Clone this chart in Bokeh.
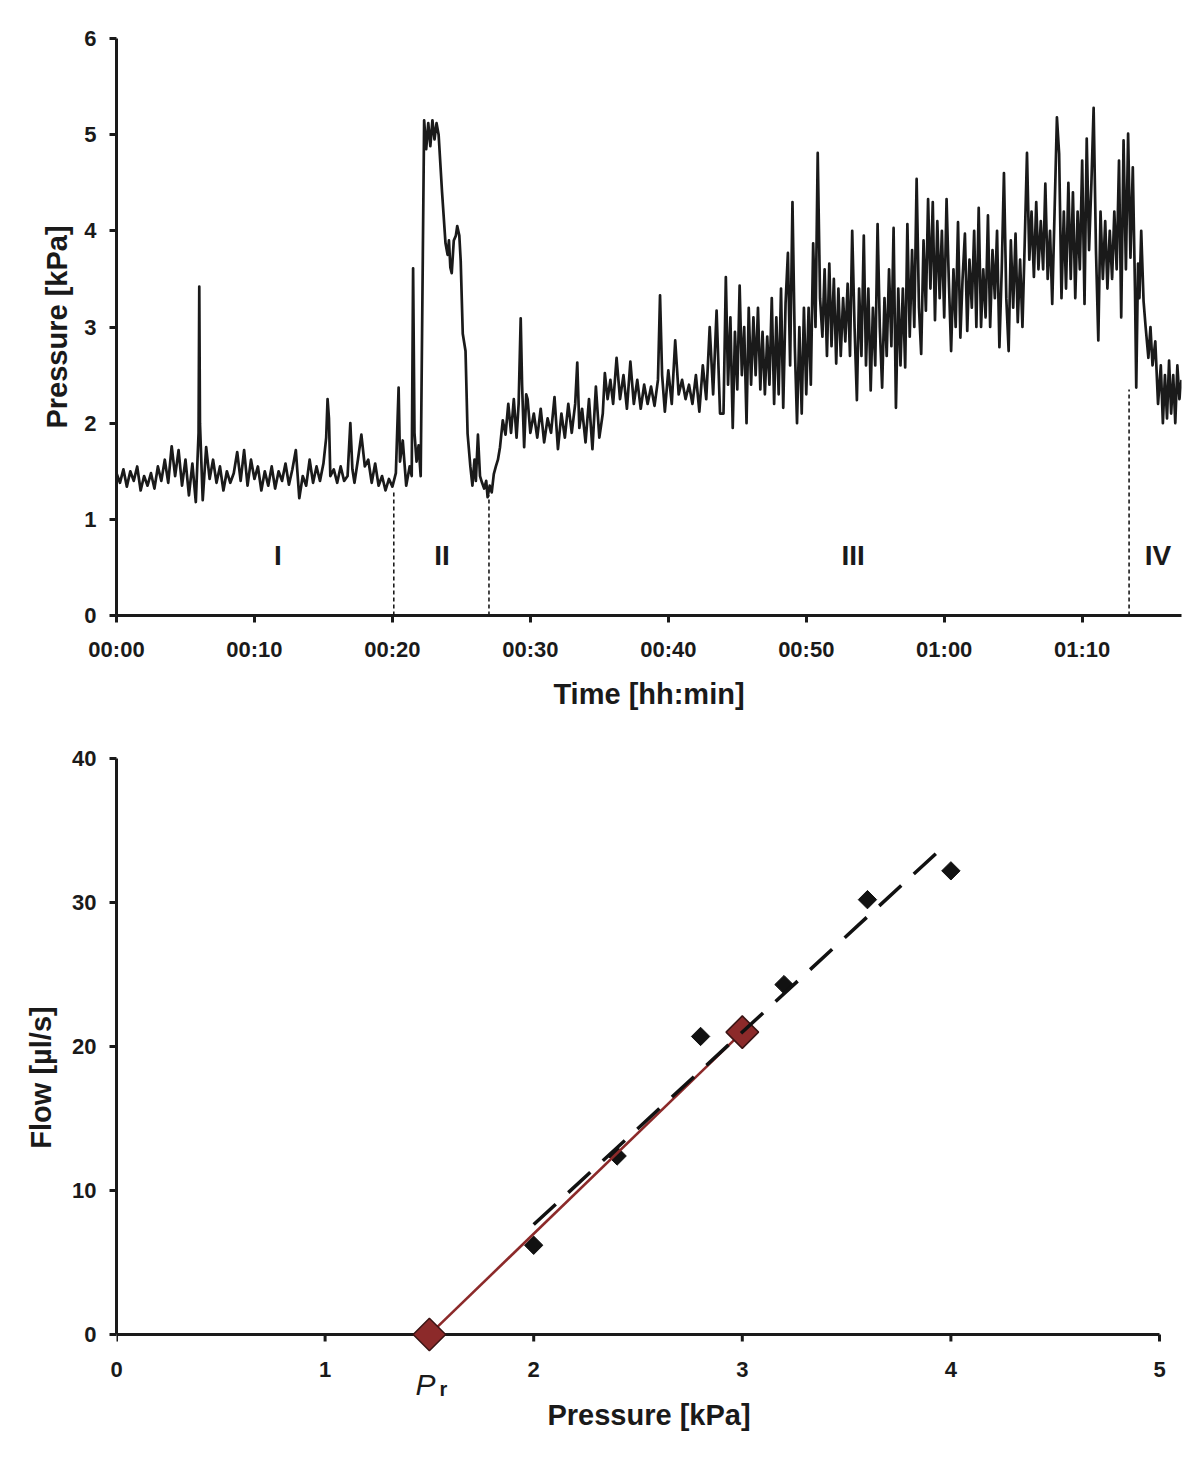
import math
from bokeh.plotting import figure
from bokeh.models import Range1d, FixedTicker
from bokeh.layouts import column
from bokeh.embed import file_html
from bokeh.resources import INLINE
from bokeh.core.properties import value

INK = "#1a1a1a"
FONT = "Liberation Sans"

# ---------------- top panel: pressure trace ----------------
time_min = [
    0.00, 0.25, 0.50, 0.75, 1.00, 1.25, 1.50, 1.75, 2.00, 2.25,
    2.50, 2.75, 3.00, 3.25, 3.50, 3.75, 4.00, 4.25, 4.50, 4.75,
    5.00, 5.25, 5.50, 5.75, 5.95, 6.00, 6.05, 6.25, 6.50, 6.75,
    7.00, 7.25, 7.50, 7.75, 8.00, 8.25, 8.50, 8.75, 9.00, 9.25,
    9.50, 9.75, 10.00, 10.25, 10.50, 10.75, 11.00, 11.25, 11.50, 11.75,
    12.00, 12.25, 12.50, 12.75, 13.00, 13.25, 13.50, 13.75, 14.00, 14.25,
    14.50, 14.75, 15.00, 15.20, 15.30, 15.40, 15.50, 15.75, 16.00, 16.25,
    16.50, 16.75, 16.95, 17.10, 17.25, 17.50, 17.75, 18.00, 18.25, 18.50,
    18.75, 19.00, 19.25, 19.50, 19.75, 20.00, 20.25, 20.45, 20.55, 20.75,
    21.00, 21.25, 21.40, 21.50, 21.60, 21.75, 21.90, 22.05, 22.30, 22.45,
    22.60, 22.75, 22.90, 23.05, 23.20, 23.35, 23.60, 23.85, 24.00, 24.10,
    24.20, 24.30, 24.45, 24.60, 24.70, 24.85, 24.95, 25.10, 25.30, 25.45,
    25.65, 25.80, 25.95, 26.05, 26.20, 26.35, 26.50, 26.65, 26.80, 26.90,
    27.05, 27.20, 27.35, 27.50, 27.65, 27.80, 28.00, 28.20, 28.40, 28.60,
    28.80, 29.00, 29.15, 29.30, 29.40, 29.55, 29.70, 29.80, 30.00, 30.25,
    30.50, 30.75, 31.00, 31.25, 31.50, 31.75, 32.00, 32.25, 32.50, 32.75,
    33.00, 33.25, 33.40, 33.55, 33.75, 34.00, 34.25, 34.50, 34.75, 35.00,
    35.25, 35.40, 35.60, 35.80, 36.00, 36.25, 36.50, 36.75, 37.00, 37.25,
    37.50, 37.75, 38.00, 38.25, 38.50, 38.75, 39.00, 39.25, 39.40, 39.55,
    39.75, 40.00, 40.25, 40.50, 40.75, 41.00, 41.25, 41.50, 41.75, 42.00,
    42.25, 42.50, 42.75, 43.00, 43.25, 43.50, 43.75,
    44.00, 44.17, 44.33, 44.50, 44.67, 44.83,
    45.00, 45.17, 45.33, 45.50, 45.67, 45.83,
    46.00, 46.17, 46.33, 46.50, 46.67, 46.83,
    47.00, 47.17, 47.33, 47.50, 47.67, 47.83,
    48.00, 48.17, 48.33, 48.50, 48.67, 48.83,
    49.00, 49.17, 49.33, 49.50, 49.67, 49.83,
    50.00, 50.17, 50.33, 50.50, 50.67, 50.83,
    51.00, 51.17, 51.33, 51.50, 51.67, 51.83,
    52.00, 52.17, 52.33, 52.50, 52.67, 52.83,
    53.00, 53.17, 53.33, 53.50, 53.67, 53.83,
    54.00, 54.17, 54.33, 54.50, 54.67, 54.83,
    55.00, 55.17, 55.33, 55.50, 55.67, 55.83,
    56.00, 56.17, 56.33, 56.50, 56.67, 56.83,
    57.00, 57.17, 57.33, 57.50, 57.67, 57.83,
    58.00, 58.17, 58.33, 58.50, 58.67, 58.83,
    59.00, 59.17, 59.33, 59.50, 59.67, 59.83,
    60.00, 60.17, 60.33, 60.50, 60.67, 60.83,
    61.00, 61.17, 61.33, 61.50, 61.67, 61.83,
    62.00, 62.17, 62.33, 62.50, 62.67, 62.83,
    63.00, 63.17, 63.33, 63.50, 63.67, 63.83,
    64.00, 64.17, 64.33, 64.50, 64.67, 64.83,
    65.00, 65.17, 65.33, 65.50, 65.67, 65.83,
    66.00, 66.17, 66.33, 66.50, 66.67, 66.83,
    67.00, 67.17, 67.33, 67.50, 67.67, 67.83,
    68.00, 68.17, 68.33, 68.50, 68.67, 68.83,
    69.00, 69.17, 69.33, 69.50, 69.67, 69.83,
    70.00, 70.17, 70.33, 70.50, 70.67, 70.83,
    71.00, 71.17, 71.33, 71.50, 71.67, 71.83,
    72.00, 72.17, 72.33, 72.50, 72.67, 72.83,
    73.00, 73.17, 73.33, 73.50, 73.67, 73.83,
    73.92, 74.05, 74.15, 74.28, 74.45, 74.60,
    74.80, 74.95, 75.10, 75.30, 75.50, 75.70, 75.85, 76.00, 76.15, 76.30,
    76.45, 76.60, 76.75, 76.90, 77.05, 77.20,
]
pressure_kpa = [
    1.48, 1.38, 1.52, 1.34, 1.50, 1.40, 1.55, 1.30, 1.45, 1.35,
    1.48, 1.32, 1.55, 1.40, 1.62, 1.38, 1.76, 1.45, 1.72, 1.35,
    1.62, 1.25, 1.58, 1.18, 1.90, 3.42, 2.00, 1.20, 1.75, 1.42,
    1.62, 1.38, 1.55, 1.30, 1.50, 1.38, 1.48, 1.70, 1.40, 1.72,
    1.35, 1.62, 1.42, 1.55, 1.30, 1.50, 1.35, 1.55, 1.32, 1.50,
    1.40, 1.58, 1.36, 1.52, 1.72, 1.22, 1.45, 1.35, 1.62, 1.38,
    1.55, 1.40, 1.58, 1.85, 2.25, 2.05, 1.45, 1.52, 1.38, 1.55,
    1.40, 1.45, 2.00, 1.52, 1.38, 1.62, 1.88, 1.55, 1.62, 1.38,
    1.58, 1.35, 1.45, 1.30, 1.42, 1.34, 1.48, 2.37, 1.60, 1.82,
    1.35, 1.55, 1.45, 3.61, 1.90, 1.60, 1.77, 1.45, 5.15, 4.85,
    5.12, 4.88, 5.15, 4.95, 5.12, 5.00, 4.40, 3.87, 3.75, 3.90,
    3.62, 3.56, 3.90, 3.95, 4.05, 3.95, 3.69, 2.93, 2.75, 1.89,
    1.55, 1.35, 1.62, 1.40, 1.88, 1.45, 1.38, 1.32, 1.40, 1.23,
    1.35, 1.28, 1.47, 1.55, 1.62, 1.75, 2.03, 1.88, 2.20, 1.90,
    2.25, 1.85, 2.20, 3.09, 2.40, 1.75, 2.30, 2.25, 1.90, 2.10,
    1.85, 2.15, 1.80, 2.05, 1.90, 2.27, 1.73, 2.10, 1.85, 2.20,
    1.90, 2.20, 2.63, 1.95, 2.15, 1.80, 2.25, 1.73, 2.38, 1.85,
    2.10, 2.52, 2.25, 2.45, 2.20, 2.68, 2.25, 2.50, 2.15, 2.64,
    2.20, 2.45, 2.15, 2.40, 2.20, 2.38, 2.18, 2.45, 3.33, 2.50,
    2.12, 2.55, 2.20, 2.86, 2.30, 2.45, 2.25, 2.40, 2.20, 2.50,
    2.12, 2.60, 2.25, 3.00, 2.30, 3.17, 2.10,
    2.10, 3.52, 2.40, 3.10, 1.95, 2.95,
    2.35, 3.43, 2.50, 3.00, 2.00, 3.20,
    2.40, 3.10, 2.50, 3.20, 2.35, 2.95,
    2.30, 2.90, 2.40, 3.30, 2.20, 3.10,
    2.30, 3.40, 2.16, 3.25, 3.77, 2.60,
    4.30, 2.80, 2.00, 3.00, 2.10, 3.20,
    2.30, 3.20, 2.40, 3.87, 3.00, 4.81,
    3.30, 2.90, 3.60, 2.70, 3.66, 2.80,
    3.50, 2.62, 3.40, 2.70, 3.30, 2.85,
    3.45, 2.70, 4.00, 3.00, 2.24, 3.40,
    2.70, 3.95, 2.60, 3.40, 2.34, 3.20,
    2.60, 4.07, 3.00, 2.37, 3.30, 2.70,
    3.60, 2.80, 4.03, 2.16, 3.40, 2.60,
    3.40, 2.58, 4.07, 2.90, 3.80, 3.00,
    4.54, 3.20, 2.72, 3.90, 3.17, 4.33,
    3.40, 4.30, 3.07, 4.10, 3.30, 4.00,
    3.10, 4.33, 3.50, 2.75, 3.60, 3.00,
    4.09, 2.89, 3.50, 3.97, 2.96, 3.70,
    3.20, 4.00, 3.00, 4.24, 3.00, 3.60,
    3.10, 4.16, 3.00, 3.80, 3.30, 4.00,
    2.79, 3.60, 4.60, 3.30, 2.75, 3.90,
    3.20, 3.97, 3.05, 3.70, 3.00, 3.85,
    4.81, 3.70, 4.20, 3.52, 4.30, 3.60,
    4.10, 3.60, 4.49, 3.50, 4.00, 3.24,
    4.20, 5.18, 4.80, 3.30, 4.20, 3.40,
    4.50, 3.50, 4.40, 3.30, 4.20, 3.60,
    4.73, 3.24, 4.96, 3.80, 4.50, 5.28,
    3.80, 2.86, 4.20, 3.50, 4.10, 3.40,
    4.00, 3.50, 4.20, 3.60, 4.73, 3.10,
    4.94, 3.60, 5.01, 3.72, 4.66, 3.38,
    2.37, 3.66, 3.30, 4.00, 3.27, 3.00,
    2.68, 3.00, 2.60, 2.85, 2.20, 2.60, 2.00, 2.50, 2.05, 2.65,
    2.10, 2.50, 2.00, 2.60, 2.25, 2.45,
]

time_ticks = [0, 10, 20, 30, 40, 50, 60, 70]
time_labels = ["00:00", "00:10", "00:20", "00:30", "00:40", "00:50", "01:00", "01:10"]
pressure_ticks = [0, 1, 2, 3, 4, 5, 6]

phase_boundary_min = [20.1, 27.0, 73.4]
phase_boundary_top = [1.30, 1.25, 2.35]
phase_names = ["I", "II", "III", "IV"]
phase_label_min = [11.7, 23.6, 53.4, 75.5]
phase_label_y = [0.62, 0.62, 0.62, 0.62]

# ---------------- bottom panel: flow vs pressure ----------------
flow_pressure = [2.0, 2.4, 2.8, 3.0, 3.2, 3.6, 4.0]
flow_ul_s = [6.2, 12.4, 20.7, 21.0, 24.3, 30.2, 32.2]
p_r = 1.5
ref_pressure = [p_r, 3.0]
ref_flow = [0.0, 21.0]
fit_pressure_span = [2.0, 3.95]
flow_y_ticks = [0, 10, 20, 30, 40]
flow_x_ticks = [0, 1, 2, 3, 4, 5]
flow_x_axis_end = 5

MAROON = "#8c2a2a"


def style_axis(ax, title_standoff, label_standoff, ticks, tick_out=7):
    ax.ticker = FixedTicker(ticks=ticks)
    ax.axis_line_width = 3
    ax.axis_line_color = INK
    ax.major_tick_line_width = 3
    ax.major_tick_line_color = INK
    ax.major_tick_in = 0
    ax.major_tick_out = tick_out
    ax.minor_tick_line_color = None
    ax.major_label_text_font = FONT
    ax.major_label_text_font_style = "bold"
    ax.major_label_text_font_size = "22px"
    ax.major_label_text_color = INK
    ax.major_label_standoff = label_standoff
    ax.axis_label_text_font = FONT
    ax.axis_label_text_font_style = "bold"
    ax.axis_label_text_font_size = "29px"
    ax.axis_label_text_color = INK
    ax.axis_label_standoff = title_standoff


p1 = figure(width=1192, height=720, x_range=Range1d(0, 77.2), y_range=Range1d(0, 6),
            output_backend="svg", toolbar_location=None,
            min_border_left=116, min_border_right=11, min_border_top=38, min_border_bottom=105,
            x_axis_label="Time [hh:min]", y_axis_label="Pressure [kPa]")
p1.outline_line_color = None
p1.grid.visible = False
style_axis(p1.xaxis[0], 13, 14, time_ticks)
style_axis(p1.yaxis[0], 8, 13, pressure_ticks)
p1.xaxis[0].major_label_overrides = {t: s for t, s in zip(time_ticks, time_labels)}

p1.line(time_min, pressure_kpa, line_color=INK, line_width=2.7, line_join="round")
p1.segment(x0=phase_boundary_min, y0=[0] * len(phase_boundary_min),
           x1=phase_boundary_min, y1=phase_boundary_top,
           line_color=INK, line_width=1.6, line_dash="4 3")
p1.text(x=phase_label_min, y=phase_label_y, text=phase_names,
        text_font=value(FONT), text_font_style="bold", text_font_size="28px",
        text_align="center", text_baseline="middle", text_color=INK)

# bottom panel: the two plots share frame width in the column, so the x range
# is widened so that 5 kPa lands where the reference axis ends.
frame_w_top = 1192 - 116 - 11
frame_w_bottom_ref = 1043
p2 = figure(width=1192, height=737,
            x_range=Range1d(0, flow_x_axis_end * frame_w_top / frame_w_bottom_ref),
            y_range=Range1d(-4.3, 40),
            output_backend="svg", toolbar_location=None,
            min_border_left=116, min_border_right=11, min_border_top=38, min_border_bottom=61,
            x_axis_label="Pressure [kPa]", y_axis_label="Flow [\u00b5l/s]")
p2.outline_line_color = None
p2.grid.visible = False
style_axis(p2.xaxis[0], 19, -35, flow_x_ticks, tick_out=0)
p2.xaxis[0].axis_line_color = None
p2.xaxis[0].major_tick_line_color = None
p2.xaxis[0].axis_label_align = "center"
style_axis(p2.yaxis[0], 12, 13, flow_y_ticks)
p2.yaxis[0].bounds = (0, 40)

# x axis line at flow = 0 and its ticks
p2.segment(x0=[0], y0=[0], x1=[flow_x_axis_end], y1=[0], line_color=INK, line_width=3)
tick_len = 7 / 14.4
p2.segment(x0=flow_x_ticks, y0=[0] * len(flow_x_ticks), x1=flow_x_ticks,
           y1=[-tick_len] * len(flow_x_ticks), line_color=INK, line_width=3)

# linear regression through measured points
n = len(flow_pressure)
mx = sum(flow_pressure) / n
my = sum(flow_ul_s) / n
sxy = sum((a - mx) * (b - my) for a, b in zip(flow_pressure, flow_ul_s))
sxx = sum((a - mx) ** 2 for a in flow_pressure)
slope = sxy / sxx
icpt = my - slope * mx
fit_flow = [slope * x + icpt for x in fit_pressure_span]

p2.scatter(flow_pressure, flow_ul_s, marker="square", angle=math.pi / 4, size=13,
           fill_color="#111111", line_color="#111111")
p2.line(ref_pressure, ref_flow, line_color=MAROON, line_width=2.6)
p2.scatter(ref_pressure, ref_flow, marker="square", angle=math.pi / 4, size=23,
           fill_color=MAROON, line_color="#3a1414", line_width=1.5)
p2.line(fit_pressure_span, fit_flow, line_color="#111111", line_width=3.5, line_dash="30 17")

p2.text(x=[p_r], y=[0], text=["P"], x_offset=-14, y_offset=50,
        text_font=value(FONT), text_font_style="italic", text_font_size="30px",
        text_color=INK, text_baseline="alphabetic", text_align="left")
p2.text(x=[p_r], y=[0], text=["r"], x_offset=10, y_offset=54,
        text_font=value(FONT), text_font_style="bold", text_font_size="20px",
        text_color=INK, text_baseline="alphabetic", text_align="left")

layout = column(p1, p2)
open("out.html", "w").write(file_html(layout, INLINE))
